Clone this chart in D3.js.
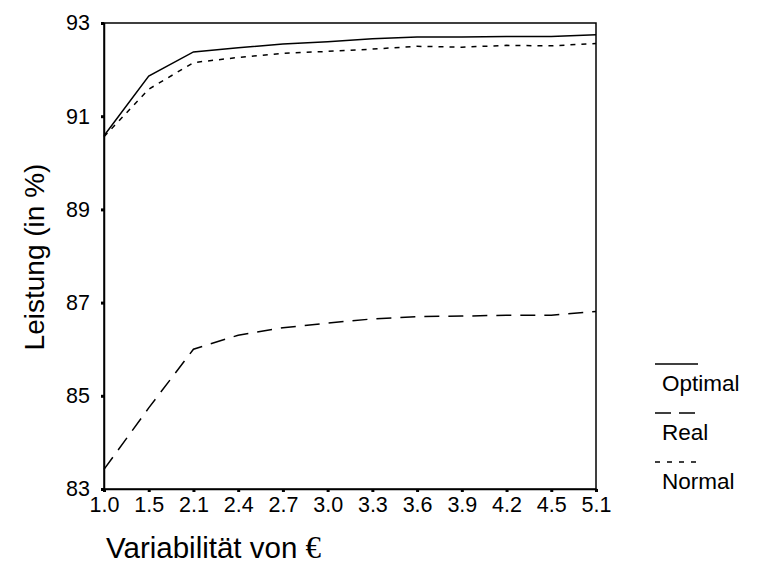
<!DOCTYPE html>
<html>
<head>
<meta charset="utf-8">
<script src="https://cdn.jsdelivr.net/npm/d3@7"></script>
<style>
  html, body { margin: 0; padding: 0; background: #fff; }
  svg { display: block; font-family: "Liberation Sans", Arial, sans-serif; }
</style>
</head>
<body>
<svg id="chart" width="772" height="569"></svg>
<script>
// Variability levels on the x axis
const categories = ["1.0", "1.5", "2.1", "2.4", "2.7", "3.0", "3.3", "3.6", "3.9", "4.2", "4.5", "5.1"];

// Performance (in %) per series
const optimal = [90.58, 91.86, 92.38, 92.47, 92.55, 92.60, 92.66, 92.70, 92.70, 92.71, 92.71, 92.75];
const real    = [83.42, 84.74, 86.00, 86.30, 86.46, 86.56, 86.65, 86.70, 86.71, 86.73, 86.73, 86.81];
const normal  = [90.56, 91.58, 92.15, 92.26, 92.35, 92.39, 92.44, 92.50, 92.48, 92.52, 92.51, 92.56];

const yTicks = [83, 85, 87, 89, 91, 93];

const seriesNames = ["Optimal", "Real", "Normal"];
const seriesValues = [optimal, real, normal];
const seriesDash = [null, "15,9", "5,6"];

const svg = d3.select("#chart");
const plotLeft = 104, plotRight = 596, plotTop = 23, plotBottom = 489;
const sans = "'Liberation Sans', Arial, sans-serif";

const x = d3.scalePoint().domain(categories).range([plotLeft, plotRight]);
const y = d3.scaleLinear().domain([83, 93]).range([plotBottom, plotTop]);

// Frame around the plot area
svg.append("rect")
  .attr("x", plotLeft).attr("y", plotTop)
  .attr("width", plotRight - plotLeft).attr("height", plotBottom - plotTop)
  .attr("fill", "none").attr("stroke", "#000").attr("stroke-width", 1.5);

// Y axis
const yAxis = svg.append("g")
  .attr("transform", `translate(${plotLeft},0)`)
  .call(d3.axisLeft(y).tickValues(yTicks).tickFormat(d3.format("d")).tickSize(3).tickPadding(11));
yAxis.select(".domain").attr("stroke", "#000").attr("stroke-width", 1.5);
yAxis.selectAll(".tick line").attr("stroke", "#000").attr("stroke-width", 3);
yAxis.selectAll(".tick text").attr("font-size", 21.5).attr("fill", "#000")
  .attr("font-family", sans);

// X axis
const xAxis = svg.append("g")
  .attr("transform", `translate(0,${plotBottom})`)
  .call(d3.axisBottom(x).tickSize(3).tickPadding(5));
xAxis.select(".domain").attr("stroke", "#000").attr("stroke-width", 1.5);
xAxis.selectAll(".tick line").attr("stroke", "#000").attr("stroke-width", 3);
xAxis.selectAll(".tick text").attr("font-size", 21.5).attr("fill", "#000")
  .attr("font-family", sans);

// Series lines
const line = d3.line()
  .x((d, i) => x(categories[i]))
  .y(d => y(d));

seriesValues.forEach((vals, k) => {
  svg.append("path")
    .datum(vals)
    .attr("d", line)
    .attr("fill", "none")
    .attr("stroke", "#000")
    .attr("stroke-width", 1.5)
    .attr("stroke-dasharray", seriesDash[k]);
});

// Axis titles
svg.append("text")
  .attr("transform", "translate(44,257) rotate(-90)")
  .attr("text-anchor", "middle")
  .attr("font-size", 28)
  .attr("font-family", sans)
  .attr("fill", "#000")
  .text("Leistung (in %)");

const xTitle = svg.append("text")
  .attr("x", 106).attr("y", 558)
  .attr("font-size", 29.5)
  .attr("font-family", sans)
  .attr("fill", "#000");
xTitle.append("tspan").text("Variabilität von ");
xTitle.append("tspan")
  .attr("font-family", "'Liberation Serif', 'Times New Roman', serif")
  .attr("font-size", 31)
  .text("€");

// Legend
const legendDash = [null, "16,8", "5,7"];
seriesNames.forEach((name, k) => {
  const ly = 364 + k * 49;
  svg.append("line")
    .attr("x1", 655).attr("x2", 698)
    .attr("y1", ly).attr("y2", ly)
    .attr("stroke", "#000").attr("stroke-width", 1.5)
    .attr("stroke-dasharray", legendDash[k]);
  svg.append("text")
    .attr("x", 662).attr("y", ly + 27)
    .attr("font-size", 22.5)
    .attr("font-family", sans)
    .attr("fill", "#000")
    .text(name);
});
</script>
</body>
</html>
